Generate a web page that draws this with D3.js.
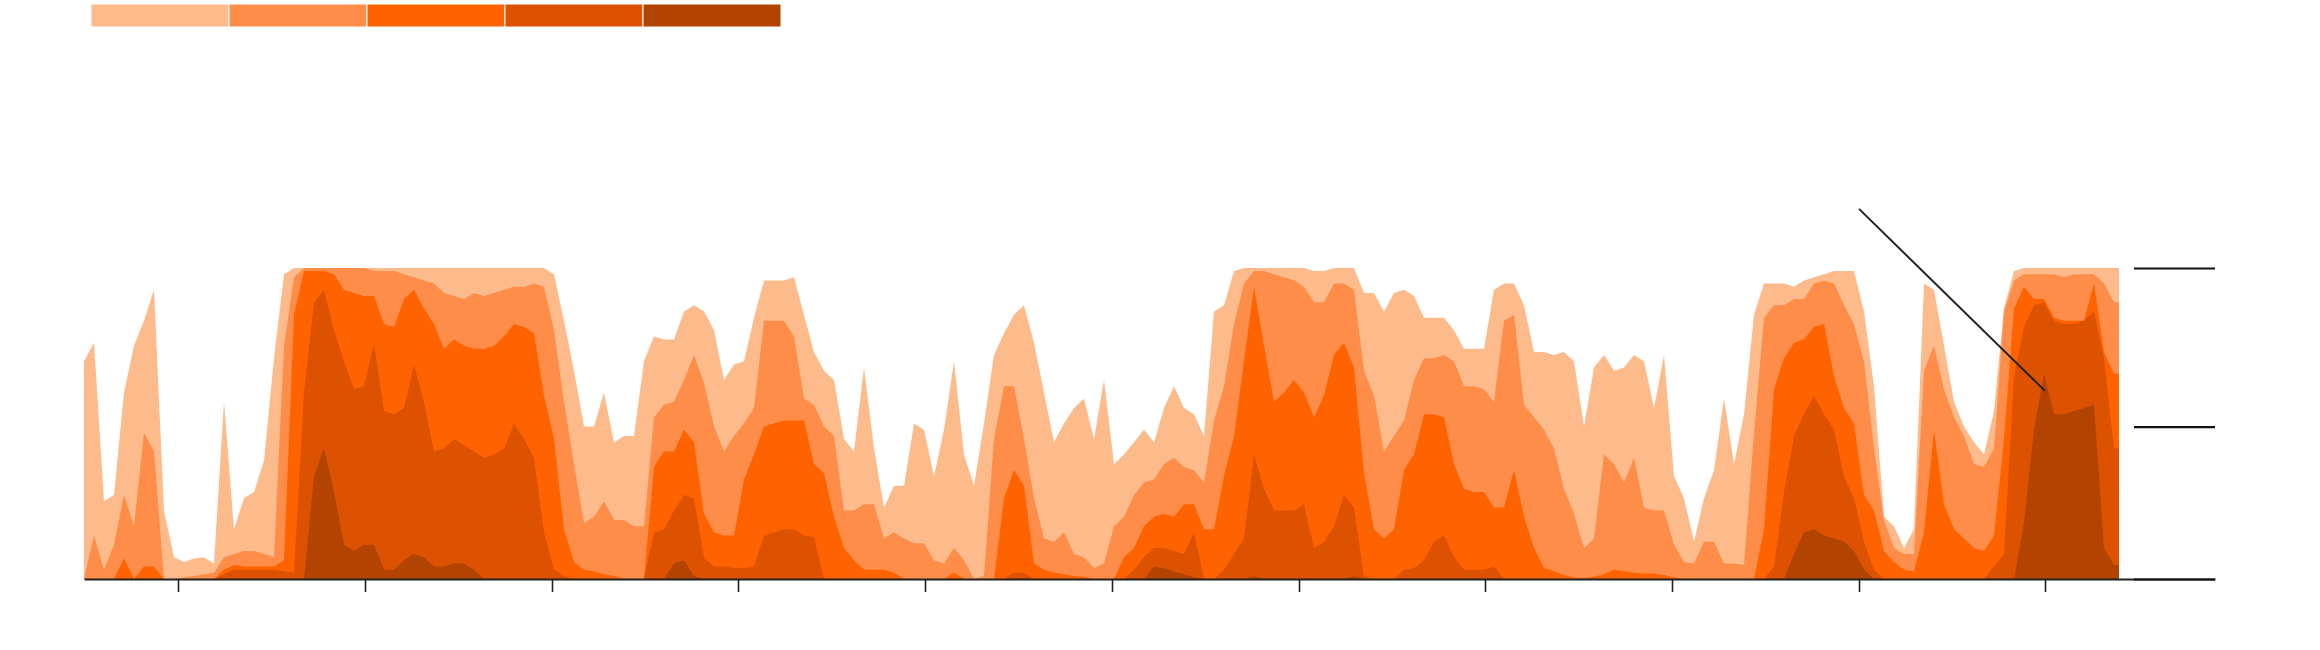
<!DOCTYPE html>
<html>
<head>
<meta charset="utf-8">
<script src="https://cdn.jsdelivr.net/npm/d3@7"></script>
<style>
  html, body { margin: 0; padding: 0; background: #fff; }
  svg { display: block; }
</style>
</head>
<body>
<svg id="chart" width="2320" height="650"></svg>
<script>
// ---- data (values in percent, sampled at regular steps) ----
const band1 = [
  70, 76, 25, 27, 60, 75, 83, 93, 22, 7,
  5.5, 6.6, 7, 5, 57, 16, 26, 28, 38, 71,
  98, 100, 100, 100, 100, 100, 100, 100, 100, 100,
  100, 100, 100, 100, 100, 100, 100, 100, 100, 100,
  100, 100, 100, 100, 100, 100, 100, 98, 83, 67,
  49, 49, 60, 44, 46, 46, 70, 78, 77, 77,
  86, 88, 86, 80, 64, 69, 70, 84, 96, 96,
  96, 97, 85, 73, 67, 64, 45, 41, 68, 42,
  23, 30, 30, 50, 48, 33, 48, 70, 40, 30,
  50, 72, 79, 85, 88, 76, 60, 44, 50, 55,
  58, 45, 64, 37, 40, 44, 48, 44, 55, 62,
  55, 53, 46, 86, 88, 99, 100, 100, 100, 100,
  100, 100, 100, 99, 99, 100, 100, 100, 92, 92,
  86, 92, 93, 91, 84, 84, 84, 80, 74, 74,
  74, 93, 95, 95, 88, 73, 73, 72, 73, 70,
  49, 68, 72, 67, 68, 72, 70, 55, 72, 33,
  26, 12, 26, 35, 58, 37, 53, 85, 95, 95,
  95, 94, 96, 97, 98, 99, 99, 99, 86, 62,
  20, 17, 10, 16, 95, 93, 75, 57, 49, 44,
  40, 54, 87, 99, 100, 100, 100, 100, 100, 100,
  100, 100, 100, 100
];
const band2 = [
  0, 14, 3, 11, 27, 17, 47, 41, 0, 0,
  0.5, 1, 1.5, 2, 7, 8, 9, 9, 8, 7,
  75, 97, 100, 100, 100, 100, 100, 100, 100, 99,
  99, 99, 98, 97, 96, 95, 92, 91, 90, 92,
  91, 92, 93, 94, 94, 95, 94, 80, 57, 37,
  18, 20, 25, 19, 19, 17, 17, 52, 56, 57,
  64, 72, 63, 49, 41, 46, 50, 55, 83, 83,
  83, 78, 58, 56, 49, 46, 22, 22, 24, 24,
  13, 15, 13, 11.5, 11.5, 6, 5, 10, 6, 0,
  1, 45, 62, 62, 45, 26, 13, 12, 15, 8,
  7, 3.5, 5, 17, 20, 27, 31, 32, 37, 39,
  36, 35, 31, 51, 62, 82, 95, 99, 99, 98,
  97, 96, 94, 89, 89, 95, 95, 93, 67, 59,
  41, 46, 51, 64, 71, 71, 72, 70, 62, 62,
  61, 57, 83, 85, 56, 52, 48, 42, 29, 21,
  10, 13, 40, 37, 31, 39, 23, 22, 22, 11,
  5.5, 5, 12, 12, 5, 5, 4.5, 47, 84, 88,
  88, 90, 90, 95, 96, 95, 88, 82, 70, 42,
  19, 10, 8, 8, 67, 75, 61, 52, 46, 37,
  36, 42, 86, 96, 98, 98, 98, 98, 97, 98,
  98, 98, 95, 89
];
const band3 = [
  0, 0, 0, 0, 6.6, 0, 4, 4, 0, 0,
  0, 0, 0, 0, 3, 4.5, 4, 4, 4, 4,
  6, 85, 99, 99, 99, 98, 93, 92, 91, 91,
  82, 81, 90, 93, 87, 82, 74, 77, 75, 74,
  74, 75, 78, 82, 81, 79, 59, 45, 16, 5.5,
  3, 2.5, 1.5, 1, 0, 0, 0, 36, 41, 41,
  48, 44, 21, 15, 14, 14, 32, 40, 49, 50,
  51, 51, 51, 37, 34, 20, 10, 6, 3, 3,
  3, 2, 0, 0, 0, 0, 0, 2, 0, 0,
  0, 0, 26, 35, 30, 5, 3, 2, 1.5, 1,
  0.7, 0, 0, 0, 7, 10, 17, 20, 21, 20,
  24, 24, 16, 16, 33, 46, 70, 94, 75, 57,
  60, 64, 60, 52, 59, 72, 76, 68, 34, 16,
  13, 16, 35, 40, 53, 53, 52, 37, 29, 28,
  28, 23, 23, 35, 20, 10, 3.5, 2.5, 1.3, 0.5,
  0.3, 0.7, 1.5, 3, 2.5, 2, 1.8, 1.8, 1.3, 0.5,
  0, 0, 0, 0, 0, 0, 0, 0, 16, 61,
  71, 76, 77, 81, 82, 65, 55, 50, 27, 22,
  9, 5.5, 3, 2.5, 15, 48, 24, 16, 13, 10,
  9, 14, 45, 87, 94, 90, 90, 84, 83, 83,
  83, 95, 73, 66
];
const band4 = [
  0, 0, 0, 0, 0, 0, 0, 0, 0, 0,
  0, 0, 0, 0, 1.5, 3, 3, 3, 3, 3,
  2.5, 2, 60, 89, 93, 80, 70, 61, 62, 76,
  54, 53, 55, 69, 57, 41, 42, 45, 43, 41,
  39, 40, 42, 50, 45, 39, 15, 3, 1, 0,
  0, 0, 0, 0, 0, 0, 0, 15, 16, 22,
  27, 26, 7, 4, 4, 3.5, 3.5, 4, 14, 15,
  16, 16, 14, 13.5, 0, 0, 0, 0, 0, 0,
  0, 0, 0, 0, 0, 0, 0, 0, 0, 0,
  0, 0, 0, 2, 2, 0, 0, 0, 0, 0,
  0, 0, 0, 0, 0, 3, 7, 10, 10, 9,
  8, 15, 0, 0, 3, 8, 13, 40, 29, 22,
  22, 22, 24, 10, 12, 17, 27, 23, 1, 0,
  0, 0, 3, 3.5, 6, 12, 14, 7, 3, 3,
  3, 4, 0, 0, 0, 0, 0, 0, 0, 0,
  0, 0, 0, 0, 0, 0, 0, 0, 0, 0,
  0, 0, 0, 0, 0, 0, 0, 0, 0, 4,
  28, 46, 53, 59, 53, 48, 33, 26, 12, 3,
  0, 0, 0, 0, 0, 0, 0, 0, 0, 0,
  0, 4, 8, 65, 81, 88, 89, 83, 82, 82,
  83, 86, 71, 42
];
const band5 = [
  0, 0, 0, 0, 0, 0, 0, 0, 0, 0,
  0, 0, 0, 0, 0, 0, 0, 0, 0, 0,
  0, 0, 0, 33, 42, 28, 11, 9, 11, 11,
  3, 3, 6, 8, 7, 4, 4, 5, 5, 3,
  0, 0, 0, 0, 0, 0, 0, 0, 0, 0,
  0, 0, 0, 0, 0, 0, 0, 0, 0, 5,
  6, 1, 0, 0, 0, 0, 0, 0, 0, 0,
  0, 0, 0, 0, 0, 0, 0, 0, 0, 0,
  0, 0, 0, 0, 0, 0, 0, 0, 0, 0,
  0, 0, 0, 0, 0, 0, 0, 0, 0, 0,
  0, 0, 0, 0, 0, 0, 0, 4, 3.5, 2.5,
  1.5, 0.5, 0, 0, 0, 0, 0, 1, 0, 0,
  0, 0, 0, 0, 0, 0, 0, 1, 0, 0,
  0, 0, 0, 0, 0, 0, 0, 0, 0, 0,
  0, 0, 0, 0, 0, 0, 0, 0, 0, 0,
  0, 0, 0, 0, 0, 0, 0, 0, 0, 0,
  0, 0, 0, 0, 0, 0, 0, 0, 0, 0,
  0, 8, 15, 16, 14, 13, 12, 9, 3, 0,
  0, 0, 0, 0, 0, 0, 0, 0, 0, 0,
  0, 0, 0, 0, 18, 48, 66, 53, 53, 54,
  55, 56, 10, 4.5
];
const bandColors = ["#fdbb8c", "#fe8d49", "#ff6300", "#dc5200", "#b34300"];
const xTickValues = [9.4, 28.1, 46.8, 65.4, 84.1, 102.8, 121.5, 140.1, 158.8, 177.5, 196.1];
const yTickValues = [0, 49, 100];
const annotation = [{ x: 177.5, y: 119 }, { x: 196.1, y: 60.5 }];

// ---- drawing ----
const svg = d3.select("#chart");
const bands = [band1, band2, band3, band4, band5];

const x = d3.scaleLinear().domain([0, 213.1]).range([84, 2215]);
const y = d3.scaleLinear().domain([0, 100]).range([579, 268]);

const area = d3.area()
  .x(d => x(d.i))
  .y0(y(0))
  .y1(d => y(Math.min(100, d.v)));

bands.forEach((vals, k) => {
  const pts = vals.map((v, i) => ({ i, v }));
  pts.push({ i: vals.length - 0.5, v: vals[vals.length - 1] });
  svg.append("path")
    .datum(pts)
    .attr("fill", bandColors[k])
    .attr("d", area);
});

// x axis
const gx = svg.append("g")
  .attr("transform", `translate(0,${y(0)})`)
  .call(d3.axisBottom(x).tickValues(xTickValues).tickSize(13).tickSizeOuter(0).tickFormat(""));
gx.select(".domain").attr("stroke", "#222").attr("stroke-width", 2.2);
gx.selectAll(".tick line").attr("stroke", "#222").attr("stroke-width", 1.6);

// right y axis (gridline-style ticks)
const gy = svg.append("g")
  .attr("transform", `translate(${x.range()[1]},0)`)
  .call(d3.axisLeft(y).tickValues(yTickValues).tickSize(81).tickFormat(""));
gy.select(".domain").remove();
gy.selectAll(".tick line").attr("stroke", "#111").attr("stroke-width", 2.2);

// annotation leader line
svg.append("line")
  .attr("x1", x(annotation[0].x)).attr("y1", y(annotation[0].y))
  .attr("x2", x(annotation[1].x)).attr("y2", y(annotation[1].y))
  .attr("stroke", "#222").attr("stroke-width", 2);

// legend
const lg = d3.scaleBand().domain(d3.range(bandColors.length)).range([91, 781]);
svg.append("g").selectAll("rect")
  .data(bandColors)
  .join("rect")
  .attr("x", (d, i) => lg(i))
  .attr("y", 4)
  .attr("width", lg.bandwidth())
  .attr("height", 23)
  .attr("fill", d => d)
  .attr("stroke", "#fff")
  .attr("stroke-width", 1);
</script>
</body>
</html>
